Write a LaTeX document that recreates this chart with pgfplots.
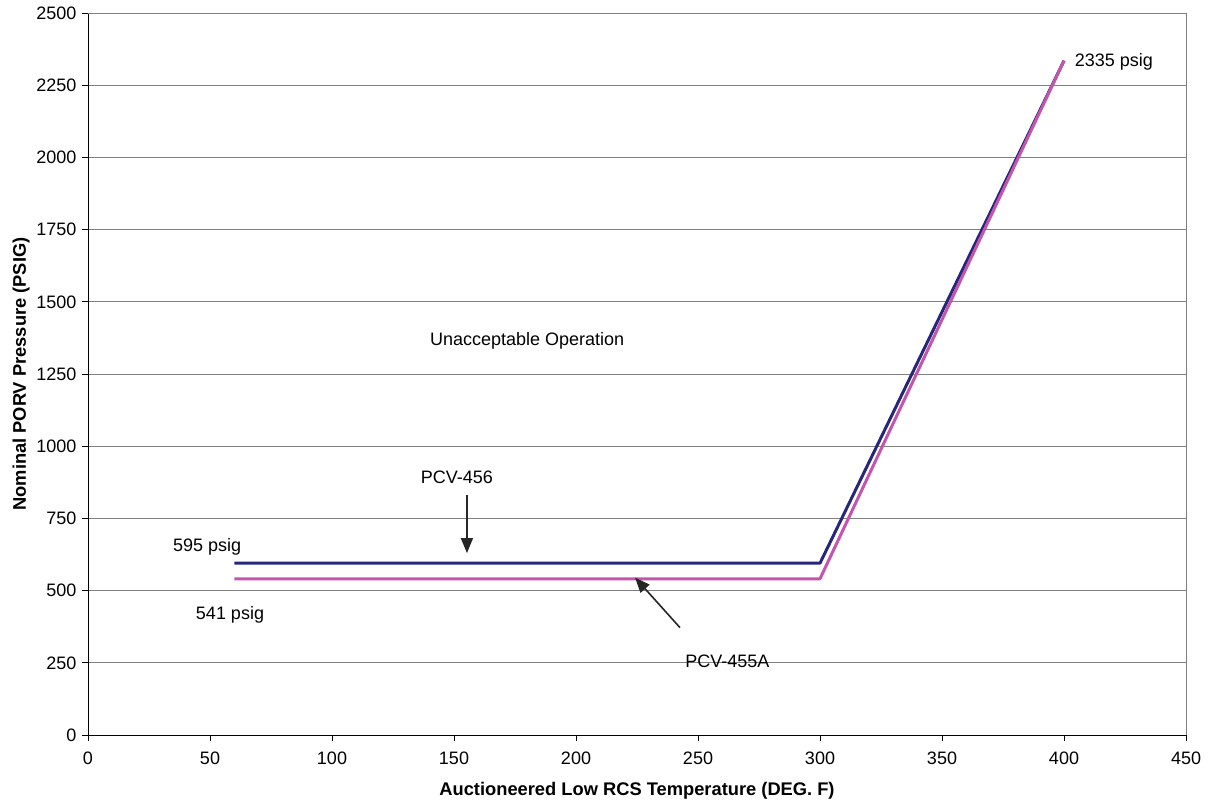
\documentclass[border=0pt]{standalone}
\usepackage{pgfplots}
\pgfplotsset{compat=1.18}
\usepackage{fontspec}
\setmainfont{Liberation Sans}
\usetikzlibrary{arrows.meta}

\definecolor{pcvnavy}{RGB}{38,38,122}
\definecolor{pcvmag}{RGB}{196,84,172}
\definecolor{gridgray}{RGB}{128,128,128}

\begin{document}
\begin{tikzpicture}[x=1pt,y=1pt]
\begin{axis}[
  scale only axis,
  width=1098pt, height=722pt,
  xmin=0, xmax=450, ymin=0, ymax=2500,
  xtick={0,50,...,450},
  ytick={0,250,...,2500},
  axis x line*=bottom,
  axis y line*=left,
  axis line style={black, line width=0.9pt},
  tick style={black, line width=0.9pt},
  tick align=outside,
  major tick length=6pt,
  ymajorgrids,
  grid style={gridgray, line width=0.9pt},
  font=\fontsize{18}{22}\selectfont,
  /pgf/number format/assume math mode=true,
  /pgf/number format/1000 sep={},
  xticklabel style={yshift=-7pt},
  yticklabel style={xshift=-2pt},
  xlabel={\fontsize{18.3}{22}\selectfont\bfseries Auctioneered Low RCS Temperature (DEG. F)},
  ylabel={\fontsize{18.3}{22}\selectfont\bfseries Nominal PORV Pressure (PSIG)},
  xlabel style={yshift=-11pt},
  ylabel style={yshift=0pt},
  clip=false,
]
% right and top frame in grey
\draw[gridgray, line width=0.9pt] (rel axis cs:0,1) -- (rel axis cs:1,1) -- (rel axis cs:1,0);

% setpoint curves
\addplot[pcvnavy, line width=3pt, line join=round] coordinates {(60,595) (300,595) (400,2335)};
\addplot[pcvmag, line width=3pt, line join=round] coordinates {(60,541) (300,541) (400,2335)};

% annotations
\node at (axis cs:180,1364) {Unacceptable Operation};
\node at (axis cs:48.8,651) {595 psig};
\node at (axis cs:58.2,415) {541 psig};
\node[anchor=west] at (axis cs:403,2330) {2335 psig};
\node at (axis cs:151.2,893) {PCV-456};
\draw[-{Triangle[length=15pt,width=12pt]}, line width=1.6pt, black!85] (axis cs:155.3,831) -- (axis cs:155.3,630);
\node at (axis cs:262,256) {PCV-455A};
\draw[-{Triangle[length=15pt,width=12pt]}, line width=1.6pt, black!85] (axis cs:242.6,372) -- (axis cs:224.2,545);

\coordinate (sw) at (rel axis cs:0,0);
\coordinate (ne) at (rel axis cs:1,1);
\end{axis}
\path (sw) ++(-88pt,-72pt) coordinate (bbsw);
\path (ne) ++(27pt,13pt) coordinate (bbne);
\path (bbsw) rectangle (bbne);
\end{tikzpicture}
\end{document}
